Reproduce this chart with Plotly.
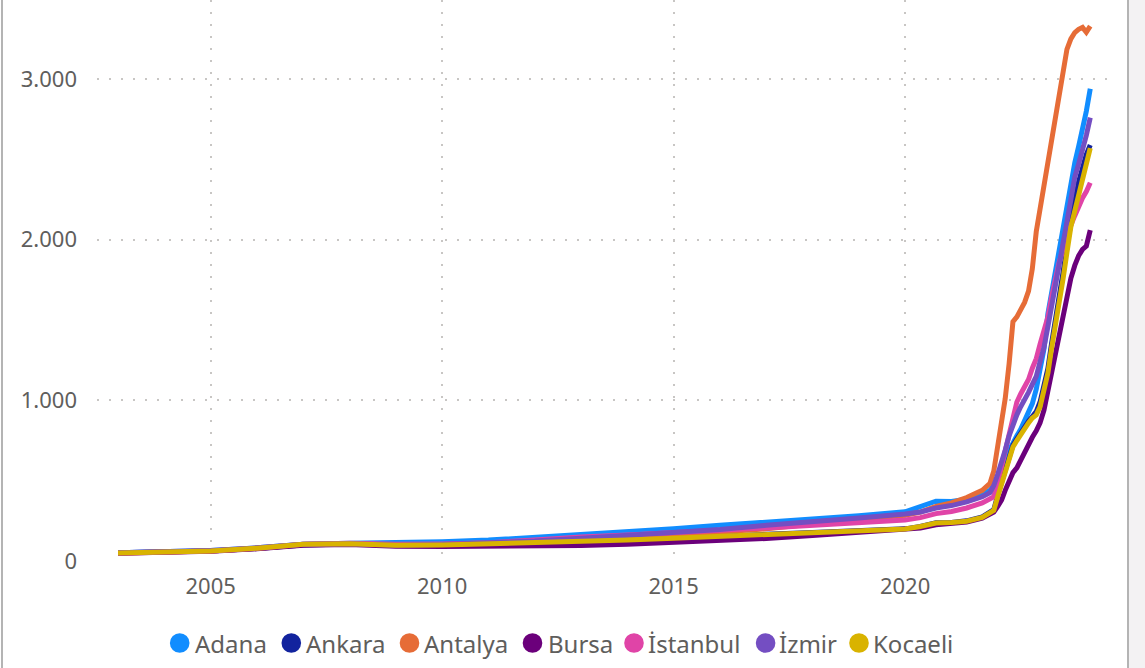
import plotly.graph_objects as go

# ---------------- data ----------------
dates = [
    "2003-01-01", "2004-01-01", "2005-01-01", "2006-01-01", "2007-01-01", "2008-01-01",
    "2009-01-01", "2010-01-01", "2011-01-01", "2012-01-01", "2013-01-01", "2014-01-01",
    "2015-01-01", "2016-01-01", "2017-01-01", "2018-01-01", "2019-01-01", "2020-01-01",
    "2020-05-01", "2020-09-01", "2021-01-01", "2021-05-01", "2021-09-01",
    "2021-11-01", "2021-12-01",
    "2022-01-01", "2022-02-01", "2022-03-01", "2022-04-01", "2022-05-01", "2022-06-01",
    "2022-07-01", "2022-08-01", "2022-09-01", "2022-10-01", "2022-11-01", "2022-12-01",
    "2023-01-01", "2023-02-01", "2023-03-01", "2023-04-01", "2023-05-01", "2023-06-01",
    "2023-07-01", "2023-08-01", "2023-09-01", "2023-10-01", "2023-11-01", "2023-12-01",
    "2024-01-01",
]

names = ["Adana", "Ankara", "Antalya", "Bursa", "İstanbul", "İzmir", "Kocaeli"]

adana = [52, 58, 66, 82, 104, 110, 112, 120, 130, 146, 166, 180, 200, 222, 240, 262, 282, 306,
         340, 372, 370, 385, 415,
         440, 470,
         520, 580, 640, 690, 740, 780, 820, 870, 920, 980, 1070, 1200,
         1320, 1540, 1670, 1800, 1930, 2080, 2230, 2370, 2480, 2580, 2680, 2800,
         2940]
ankara = [52, 57, 63, 78, 100, 106, 100, 102, 106, 112, 120, 130, 140, 152, 166, 178, 190, 200,
          215, 238, 240, 250, 275,
          300, 320,
          410, 490, 570, 650, 720, 760, 800, 840, 870, 900, 930, 990,
          1090, 1200, 1350, 1490, 1650, 1800, 1960, 2120, 2240, 2360, 2460, 2530,
          2590]
antalya = [48, 55, 62, 78, 102, 108, 100, 100, 104, 112, 126, 140, 158, 180, 200, 230, 255, 285,
           305, 340, 362, 395, 440,
           484, 560,
           700, 860, 1010, 1230, 1490, 1520, 1560, 1610, 1680, 1820, 2050, 2190,
           2340, 2480, 2630, 2790, 2920, 3075, 3185, 3250, 3290, 3310, 3322, 3292,
           3330]
bursa = [48, 54, 60, 76, 98, 102, 92, 90, 90, 92, 96, 104, 114, 124, 140, 158, 176, 192,
         205, 226, 232, 242, 266,
         290, 305,
         340, 380, 440, 500, 550, 580, 630, 680, 730, 770, 810, 860,
         940, 1060, 1180, 1310, 1420, 1550, 1660, 1760, 1840, 1900, 1940, 1960,
         2060]
istanbul = [50, 56, 63, 80, 104, 110, 104, 106, 114, 130, 150, 162, 174, 192, 206, 222, 236, 255,
            270, 295, 308, 330, 362,
            385, 400,
            490, 590, 680, 780, 880, 990, 1040, 1080, 1130, 1200, 1260, 1350,
            1430, 1520, 1640, 1760, 1860, 1940, 2020, 2090, 2150, 2210, 2260, 2300,
            2355]
izmir = [52, 58, 66, 82, 104, 108, 98, 102, 110, 124, 142, 160, 180, 196, 222, 248, 268, 292,
         305, 330, 345, 368, 400,
         425, 470,
         540, 610, 690, 780, 850, 910, 960, 1000, 1050, 1100, 1150, 1240,
         1330, 1460, 1590, 1720, 1850, 1980, 2110, 2250, 2390, 2470, 2550, 2650,
         2760]
kocaeli = [50, 56, 63, 80, 104, 108, 98, 100, 106, 114, 122, 130, 142, 154, 166, 178, 190, 199,
           215, 236, 240, 248, 272,
           298, 315,
           400, 480, 560, 640, 710, 750, 790, 830, 860, 890, 910, 960,
           1060, 1170, 1320, 1460, 1620, 1760, 1920, 2080, 2180, 2280, 2380, 2470,
           2570]

y_tick_vals = [0, 1000, 2000, 3000]
y_tick_text = ["0", "1.000", "2.000", "3.000"]

# ---------------- style / layout ----------------
colors = ["#118DFF", "#12239E", "#E66C37", "#6B007B", "#E044A7", "#744EC2", "#D9B300"]
series = [adana, ankara, antalya, bursa, istanbul, izmir, kocaeli]

W, H = 1145, 668
ML, MR, MT, MB = 97, 37, 0, 107
PW, PH = W - ML - MR, H - MT - MB
TEXT = "#605E5C"
FONT = "Noto Sans"
GRID = "#C8C6C4"


def pxx(px):
    return (px - ML) / PW


def pxy(py):
    return (H - MB - py) / PH


fig = go.Figure()
for name, color, vals in zip(names, colors, series):
    fig.add_trace(go.Scatter(
        x=dates, y=vals, mode="lines", name=name,
        line=dict(color=color, width=5),
        showlegend=False,
    ))

# custom legend (circle + label), pixel positions
legend_circle_x = [179.7, 291.3, 409.5, 532.5, 634.0, 765.6, 859.0]
legend_text_x = [193, 304, 422, 546, 646, 777, 871]
legend_y = 643
shapes = []
annotations = []
for name, color, cx, tx in zip(names, colors, legend_circle_x, legend_text_x):
    shapes.append(dict(
        type="circle", xref="paper", yref="paper",
        xsizemode="pixel", ysizemode="pixel",
        xanchor=pxx(cx), yanchor=pxy(legend_y),
        x0=-9.8, x1=9.8, y0=-9.8, y1=9.8,
        fillcolor=color, line=dict(width=0),
    ))
    annotations.append(dict(
        text=name, xref="paper", yref="paper",
        x=pxx(tx), y=pxy(legend_y), xanchor="left", yanchor="middle",
        showarrow=False, font=dict(family=FONT, size=24, color=TEXT),
    ))

# frame lines and right gray strip
shapes.append(dict(type="rect", xref="paper", yref="paper",
                   x0=pxx(1129), x1=pxx(1146), y0=pxy(H + 2), y1=pxy(-2),
                   fillcolor="#F3F2F3", line=dict(width=0)))
shapes.append(dict(type="line", xref="paper", yref="paper",
                   x0=pxx(2), x1=pxx(2), y0=pxy(H + 2), y1=pxy(-2),
                   line=dict(color="#B4B4B4", width=2)))
shapes.append(dict(type="line", xref="paper", yref="paper",
                   x0=pxx(1128), x1=pxx(1128), y0=pxy(H + 2), y1=pxy(-2),
                   line=dict(color="#B4B4B4", width=2)))

fig.update_layout(
    width=W, height=H,
    margin=dict(l=ML, r=MR, t=MT, b=MB, pad=0),
    paper_bgcolor="white", plot_bgcolor="white",
    font=dict(family=FONT, size=22, color=TEXT),
    showlegend=False,
    shapes=shapes,
    annotations=annotations,
    xaxis=dict(
        type="date",
        range=["2002-07-19", "2024-05-20"],
        tick0="2005-01-01", dtick="M60", tickformat="%Y",
        showgrid=True, gridcolor=GRID, gridwidth=2, griddash="2px,10px",
        zeroline=False, showline=False, ticks="",
        ticklabelstandoff=10,
        tickfont=dict(family=FONT, size=22, color=TEXT),
    ),
    yaxis=dict(
        range=[0, 3492.5],
        tickvals=y_tick_vals, ticktext=y_tick_text,
        showgrid=True, gridcolor=GRID, gridwidth=2, griddash="2px,10px",
        zeroline=False, showline=False, ticks="",
        ticklabelstandoff=19,
        tickfont=dict(family=FONT, size=22, color=TEXT),
    ),
)

fig.write_html("out.html")
